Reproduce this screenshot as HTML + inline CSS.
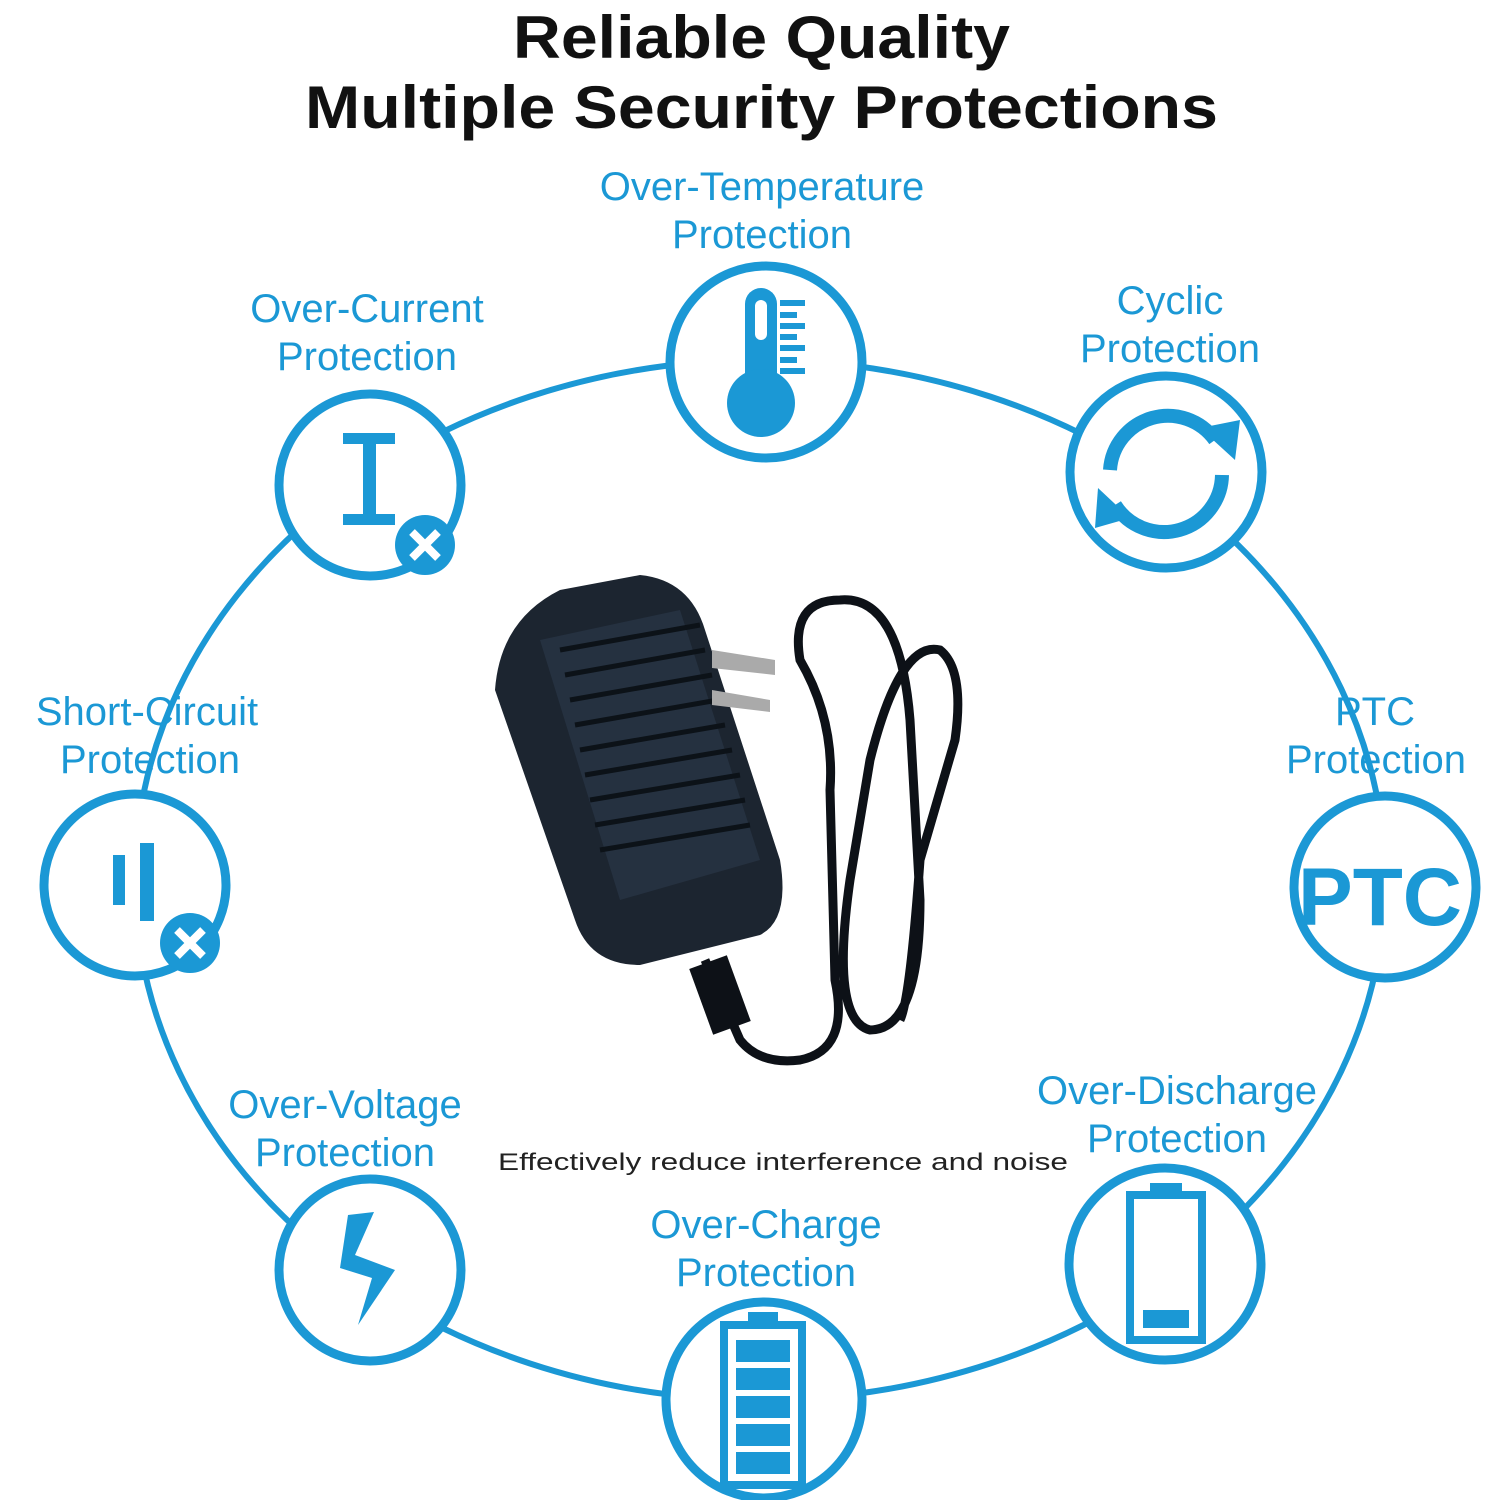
<!DOCTYPE html>
<html><head><style>
html,body{margin:0;padding:0;background:#fff}
svg text{font-family:"Liberation Sans",sans-serif}
</style></head><body>
<svg width="1499" height="1500" viewBox="0 0 1499 1500" xmlns="http://www.w3.org/2000/svg">
<rect width="1499" height="1500" fill="#fff"/>
<text x="513" y="58" font-size="60" font-weight="bold" textLength="497" lengthAdjust="spacingAndGlyphs" fill="#111">Reliable Quality</text>
<text x="305" y="128" font-size="60" font-weight="bold" textLength="913" lengthAdjust="spacingAndGlyphs" fill="#111">Multiple Security Protections</text>
<ellipse cx="760" cy="880" rx="625" ry="520" fill="none" stroke="#1b98d5" stroke-width="6"/>
<g fill="#fff" stroke="#1b98d5" stroke-width="9">
<circle cx="766" cy="362" r="96"/>
<circle cx="1166" cy="472" r="96"/>
<circle cx="370" cy="485" r="91"/>
<circle cx="135" cy="885" r="91"/>
<circle cx="1385" cy="887" r="91"/>
<circle cx="1165" cy="1264" r="96"/>
<circle cx="764" cy="1400" r="98"/>
<circle cx="370" cy="1270" r="91"/>
</g>
<g fill="#1b98d5" font-size="40" text-anchor="middle">
<text x="762" y="200">Over-Temperature</text><text x="762" y="248">Protection</text>
<text x="367" y="322">Over-Current</text><text x="367" y="370">Protection</text>
<text x="1170" y="314">Cyclic</text><text x="1170" y="362">Protection</text>
<text x="147" y="725">Short-Circuit</text><text x="150" y="773">Protection</text>
<text x="1375" y="725">PTC</text><text x="1376" y="773">Protection</text>
<text x="345" y="1118">Over-Voltage</text><text x="345" y="1166">Protection</text>
<text x="1177" y="1104">Over-Discharge</text><text x="1177" y="1152">Protection</text>
<text x="766" y="1238">Over-Charge</text><text x="766" y="1286">Protection</text>
</g>
<text x="498" y="1170" font-size="24" textLength="570" lengthAdjust="spacingAndGlyphs" fill="#222">Effectively reduce interference and noise</text>
<g fill="#1b98d5">
<rect x="745" y="288" width="32" height="120" rx="16"/>
<circle cx="761" cy="403" r="34"/>
<rect x="755" y="300" width="12" height="40" rx="6" fill="#fff"/>
<rect x="780" y="300" width="25" height="6"/><rect x="780" y="312" width="17" height="6"/><rect x="780" y="323" width="25" height="6"/><rect x="780" y="334" width="17" height="6"/><rect x="780" y="345" width="25" height="6"/><rect x="780" y="357" width="17" height="6"/><rect x="780" y="368" width="25" height="6"/>
</g>
<g fill="none" stroke="#1b98d5" stroke-width="14">
<path d="M1110 470 A58 58 0 0 1 1215 440"/>
<path d="M1222 475 A58 58 0 0 1 1115 505"/>
</g>
<polygon points="1200,428 1235,460 1240,420" fill="#1b98d5"/>
<polygon points="1130,518 1098,488 1095,528" fill="#1b98d5"/>
<g fill="#1b98d5">
<rect x="343" y="433" width="52" height="11"/><rect x="343" y="514" width="52" height="11"/><rect x="363" y="433" width="13" height="92"/>
<circle cx="425" cy="545" r="30"/><circle cx="190" cy="943" r="30"/>
<rect x="113" y="855" width="12" height="50"/><rect x="140" y="843" width="14" height="78"/>
</g>
<g stroke="#fff" stroke-width="8"><path d="M412 532 L438 558 M438 532 L412 558"/><path d="M177 930 L203 956 M203 930 L177 956"/></g>
<text x="1380" y="925" font-size="82" font-weight="bold" text-anchor="middle" fill="#1b98d5">PTC</text>
<polygon points="348,1215 374,1212 355,1255 395,1270 358,1325 372,1278 340,1268" fill="#1b98d5"/>
<g fill="none" stroke="#1b98d5" stroke-width="8">
<rect x="1130" y="1195" width="72" height="145"/>
<rect x="724" y="1325" width="78" height="160"/>
</g>
<g fill="#1b98d5">
<rect x="1150" y="1183" width="32" height="12"/><rect x="1143" y="1310" width="46" height="18"/>
<rect x="748" y="1312" width="30" height="13"/>
<rect x="736" y="1340" width="54" height="22"/><rect x="736" y="1368" width="54" height="22"/><rect x="736" y="1396" width="54" height="22"/><rect x="736" y="1424" width="54" height="22"/><rect x="736" y="1452" width="54" height="22"/>
</g>
<path d="M495 690 Q500 620 560 590 L640 575 Q690 580 705 630 L780 860 Q790 920 760 935 L640 965 Q590 965 575 920 Z" fill="#1c2530"/>
<path d="M540 640 L680 610 L760 860 L620 900 Z" fill="#253140"/>
<g stroke="#0c1218" stroke-width="5"><path d="M560 650 L700 625 M565 675 L705 650 M570 700 L712 675 M575 725 L718 700 M580 750 L725 725 M585 775 L732 750 M590 800 L740 775 M595 825 L745 800 M600 850 L750 825"/></g>
<path d="M712 650 L775 660 L775 675 L712 668 Z M712 690 L770 700 L770 712 L712 705 Z" fill="#aaa"/>
<path d="M705 960 L740 1040 Q760 1065 800 1060 Q850 1050 835 980 L830 790 Q835 720 800 660 Q790 600 840 600 Q900 595 910 720 L920 900 Q920 1030 870 1030 Q830 1020 850 880 L870 760 Q900 640 940 650 Q965 670 955 740 L920 860 Q910 1000 900 1020" fill="none" stroke="#0d1117" stroke-width="9"/>
<rect x="700" y="960" width="40" height="70" fill="#0d1117" transform="rotate(-20 720 995)"/>
</svg>
</body></html>
